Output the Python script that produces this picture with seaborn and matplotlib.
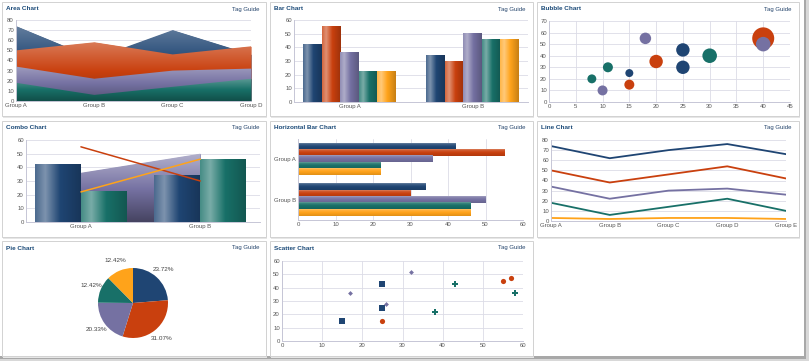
import numpy as np
import pandas as pd
import matplotlib
matplotlib.use("Agg")
import matplotlib.pyplot as plt
import seaborn as sns
from matplotlib.patches import Rectangle
from matplotlib.colors import to_rgb

W, H = 809, 361

# ---------------- data ----------------
series_names = ["Series 1", "Series 2", "Series 3", "Series 4", "Series 5"]
series_colors = ["#1F4573", "#C9400E", "#7571A2", "#187068", "#FFA31A"]

groups2 = ["Group A", "Group B"]
groups4 = ["Group A", "Group B", "Group C", "Group D"]
groups5 = ["Group A", "Group B", "Group C", "Group D", "Group E"]

area_s1 = [74, 42, 70, 46]
area_s2 = [50, 58, 46, 54]
area_s3 = [34, 22, 30, 32]
area_s4 = [18, 6, 14, 22]

bar_group_a = [42, 55, 36, 22, 22]
bar_group_b = [34, 30, 50, 46, 46]

bubble_x = [15, 25, 25, 15, 20, 40, 10, 18, 40, 8, 11, 30]
bubble_y = [25, 45, 30, 15, 35, 55, 10, 55, 50, 20, 30, 40]
bubble_size = [16, 45, 45, 25, 45, 121, 25, 33, 53, 20, 25, 53]
bubble_series = ["Series 1"] * 3 + ["Series 2"] * 3 + ["Series 3"] * 3 + ["Series 4"] * 3

combo_bar1 = [42, 34]
combo_bar2 = [22, 46]
combo_area = [36, 50]
combo_line1 = [55, 30]
combo_line2 = [22, 46]

line_s1 = [74, 62, 70, 76, 66]
line_s2 = [50, 38, 46, 54, 42]
line_s3 = [34, 22, 30, 32, 26]
line_s4 = [18, 6, 14, 22, 10]
line_s5 = [3, 2, 3, 3, 2]

pie_values = [23.72, 31.07, 20.33, 12.42, 12.42]
pie_labels = ["23.72%", "31.07%", "20.33%", "12.42%", "12.42%"]

scatter_x = [15, 25, 25, 25, 55, 57, 17, 26, 32, 38, 43, 58]
scatter_y = [15, 25, 43, 15, 45, 47, 36, 28, 52, 22, 43, 36]
scatter_series = ["Series 1"] * 3 + ["Series 2"] * 3 + ["Series 3"] * 3 + ["Series 4"] * 3

palette = dict(zip(series_names, series_colors))

sns.set_style("white")
plt.rcParams["font.family"] = ["Liberation Sans", "DejaVu Sans"]

fig = plt.figure(figsize=(W / 100, H / 100), dpi=100)
fig.patch.set_facecolor("white")

TICK_FS = 4.3
TITLE_COLOR = "#1B4A78"


def px_axes(x0, y0, x1, y1):
    return fig.add_axes([x0 / W, 1 - y1 / H, (x1 - x0) / W, (y1 - y0) / H])


def shade(color, f):
    rgb = np.array(to_rgb(color))
    if f > 0:
        return rgb + (1 - rgb) * f
    return rgb * (1 + f)


def gradient(color, stops, levels, n=64):
    t = np.linspace(0, 1, n)
    prof = np.interp(t, stops, levels)
    return np.array([shade(color, f) for f in prof])


def shade_bars(ax, vertical=True):
    # glossy look: light stripe near the left (or top) edge, darker on the other side
    for p in list(ax.patches):
        x0, y0, w, h = p.get_x(), p.get_y(), p.get_width(), p.get_height()
        if w == 0 or h == 0:
            continue
        col = p.get_facecolor()[:3]
        if vertical:
            cols = gradient(col, [0, 0.22, 0.55, 1], [0.2, 0.42, 0.0, -0.22])
            img = cols[None, :, :]
            ext = [x0, x0 + w, y0, y0 + h]
        else:
            cols = gradient(col, [0, 0.15, 0.5, 1], [0.35, 0.15, 0.0, -0.12])
            img = cols[:, None, :]
            ext = [x0, x0 + w, y0 + h, y0]
        ax.imshow(img, extent=ext, aspect="auto", interpolation="bilinear",
                  zorder=p.get_zorder() + 0.01)


def shade_area(ax, poly, color, top, levels):
    cols = gradient(color, [0, 1], levels)
    im = ax.imshow(cols[:, None, :], extent=[0, len(groups4) - 1, 0, top], aspect="auto",
                   interpolation="bilinear", zorder=poly.get_zorder() + 0.01)
    im.set_clip_path(poly.get_paths()[0], transform=ax.transData)
    return im


def card(x0, y0, x1, y1, title):
    # light shadow + white card
    fig.patches.append(Rectangle((x0 / W + 1 / W, 1 - (y1 + 1.5) / H), (x1 - x0) / W, (y1 - y0) / H,
                                 transform=fig.transFigure, fc="#e6e6e6", ec="none", zorder=-3))
    fig.patches.append(Rectangle((x0 / W, 1 - y1 / H), (x1 - x0) / W, (y1 - y0) / H,
                                 transform=fig.transFigure, fc="white", ec="#d2d2d2", lw=0.7, zorder=-2))
    fig.text((x0 + 4) / W, 1 - (y0 + 7) / H, title, fontsize=4.6, fontweight="bold",
             color=TITLE_COLOR, va="center", ha="left")
    fig.text((x1 - 7) / W, 1 - (y0 + 7) / H, "Tag Guide", fontsize=4.3,
             color="#23436B", va="center", ha="right")


def style_axes(ax, grid_x=False, grid_y=True):
    ax.set_facecolor("none")
    ax.grid(False)
    if grid_y:
        ax.yaxis.grid(True, color="#dcdce6", lw=0.6)
    if grid_x:
        ax.xaxis.grid(True, color="#dcdce6", lw=0.6)
    ax.set_axisbelow(True)
    for s in ["top", "right"]:
        ax.spines[s].set_visible(False)
    for s in ["left", "bottom"]:
        ax.spines[s].set_color("#c6c6d6")
        ax.spines[s].set_linewidth(0.7)
    ax.tick_params(length=0, labelsize=TICK_FS, colors="#555555", pad=1.5)
    ax.set_xlabel("")
    ax.set_ylabel("")


# ---------------- outer frame and cards ----------------
fig.patches.append(Rectangle((804 / W, 0), 5 / W, 1, transform=fig.transFigure,
                             fc="#a8a8a8", ec="none", zorder=-5))
fig.patches.append(Rectangle((0, 0), 1, 5 / H, transform=fig.transFigure,
                             fc="#a8a8a8", ec="none", zorder=-5))
fig.patches.append(Rectangle((806 / W, 0), 3 / W, 1, transform=fig.transFigure,
                             fc="#d8d8d8", ec="none", zorder=-4))
fig.patches.append(Rectangle((0, 0), 1, 2 / H, transform=fig.transFigure,
                             fc="#d8d8d8", ec="none", zorder=-4))

cols = [(2, 266), (270, 533), (537, 799)]
rows = [(2, 116), (121, 237), (241, 356)]
titles = [["Area Chart", "Bar Chart", "Bubble Chart"],
          ["Combo Chart", "Horizontal Bar Chart", "Line Chart"],
          ["Pie Chart", "Scatter Chart", None]]
for r, (y0, y1) in enumerate(rows):
    for c, (x0, x1) in enumerate(cols):
        if titles[r][c]:
            card(x0, y0, x1, y1, titles[r][c])

# ---------------- area chart ----------------
ax = px_axes(16, 20, 251, 101)
for vals, col in zip([area_s1, area_s2, area_s3, area_s4], series_colors):
    poly = ax.fill_between(groups4, vals, 0, color=col, lw=0, zorder=1)
    shade_area(ax, poly, col, max(vals), [0.3, -0.3])
ax.set_xlim(0, 3)
ax.set_ylim(0, 80)
ax.set_yticks(range(0, 81, 10))
style_axes(ax)

# ---------------- bar chart ----------------
bar_df = pd.DataFrame({
    "group": ["Group A"] * 5 + ["Group B"] * 5,
    "series": series_names * 2,
    "value": bar_group_a + bar_group_b,
})
ax = px_axes(294, 20, 528, 102)
sns.barplot(data=bar_df, x="group", y="value", hue="series", palette=palette,
            width=0.75, saturation=1, errorbar=None, legend=False, ax=ax, linewidth=0)
shade_bars(ax)
ax.set_xlim(-0.45, 1.45)
ax.set_ylim(0, 60)
ax.set_yticks(range(0, 61, 10))
style_axes(ax)

# ---------------- bubble chart ----------------
bubble_df = pd.DataFrame({"x": bubble_x, "y": bubble_y, "size": bubble_size, "series": bubble_series})
ax = px_axes(549, 21, 790, 102)
sns.scatterplot(data=bubble_df, x="x", y="y", hue="series", size="size", palette=palette,
                sizes=(33, 251), size_norm=(16, 121), linewidth=0, alpha=1, legend=False, ax=ax)
ax.set_xlim(0, 45)
ax.set_ylim(0, 70)
ax.set_xticks(range(0, 46, 5))
ax.set_yticks(range(0, 71, 10))
style_axes(ax, grid_x=True)
for a in ax.collections:
    a.set_clip_on(False)

# ---------------- combo chart ----------------
combo_df = pd.DataFrame({
    "group": groups2 * 2,
    "series": ["Series 1"] * 2 + ["Series 4"] * 2,
    "value": combo_bar1 + combo_bar2,
})
ax = px_axes(26, 140, 260, 222)
sns.barplot(data=combo_df, x="group", y="value", hue="series", palette=palette,
            width=0.77, saturation=1, errorbar=None, legend=False, ax=ax, linewidth=0)
shade_bars(ax)
poly = ax.fill_between(groups2, combo_area, 0, color=series_colors[2], lw=0, zorder=0.9)
cols_area = gradient(series_colors[2], [0, 1], [0.45, -0.4])
im = ax.imshow(cols_area[:, None, :], extent=[0, 1, 0, max(combo_area)], aspect="auto",
               interpolation="bilinear", zorder=0.91)
im.set_clip_path(poly.get_paths()[0], transform=ax.transData)
sns.lineplot(x=groups2, y=combo_line1, color=series_colors[1], lw=1.1, ax=ax, zorder=3)
sns.lineplot(x=groups2, y=combo_line2, color=series_colors[4], lw=1.1, ax=ax, zorder=3)
ax.set_xlim(-0.46, 1.5)
ax.set_ylim(0, 60)
ax.set_yticks(range(0, 61, 10))
style_axes(ax)

# ---------------- horizontal bar chart ----------------
ax = px_axes(298, 139, 523, 220)
sns.barplot(data=bar_df, y="group", x="value", hue="series", palette=palette, orient="h",
            width=0.8, saturation=1, errorbar=None, legend=False, ax=ax, linewidth=0)
shade_bars(ax, vertical=False)
ax.set_xlim(0, 60)
ax.set_xticks(range(0, 61, 10))
ax.set_ylim(1.5, -0.5)
style_axes(ax, grid_x=True, grid_y=False)

# ---------------- line chart ----------------
line_df = pd.DataFrame({
    "group": groups5 * 5,
    "series": [s for s in series_names for _ in groups5],
    "value": line_s1 + line_s2 + line_s3 + line_s4 + line_s5,
})
ax = px_axes(551, 140, 786, 221)
sns.lineplot(data=line_df, x="group", y="value", hue="series", palette=palette,
             lw=1.3, legend=False, ax=ax, sort=False)
ax.set_xlim(0, 4)
ax.set_ylim(0, 80)
ax.set_yticks(range(0, 81, 10))
style_axes(ax)

# ---------------- pie chart ----------------
ax = px_axes(133 - 56, 303 - 56, 133 + 56, 303 + 56)
ax.pie(pie_values, labels=pie_labels, colors=series_colors, startangle=90, counterclock=False,
       labeldistance=1.3, textprops=dict(fontsize=4.6, color="#444444", ha="center"),
       wedgeprops=dict(lw=0))
ax.set_xlim(-1.6, 1.6)
ax.set_ylim(-1.6, 1.6)
ax.set_aspect("equal")
ax.axis("off")

# ---------------- scatter chart ----------------
scatter_df = pd.DataFrame({"x": scatter_x, "y": scatter_y, "series": scatter_series})
ax = px_axes(282, 261, 523, 341)
marker_map = {"Series 1": ("s", 16), "Series 2": ("o", 14), "Series 3": ("D", 6), "Series 4": ("P", 14)}
for name, (mk, sz) in marker_map.items():
    sub = scatter_df[scatter_df["series"] == name]
    sns.scatterplot(data=sub, x="x", y="y", color=palette[name], marker=mk, s=sz,
                    linewidth=0, ax=ax, legend=False)
ax.set_xlim(0, 60)
ax.set_ylim(0, 60)
ax.set_xticks(range(0, 61, 10))
ax.set_yticks(range(0, 61, 10))
style_axes(ax, grid_x=True)

fig.savefig("out.png", dpi=100)
